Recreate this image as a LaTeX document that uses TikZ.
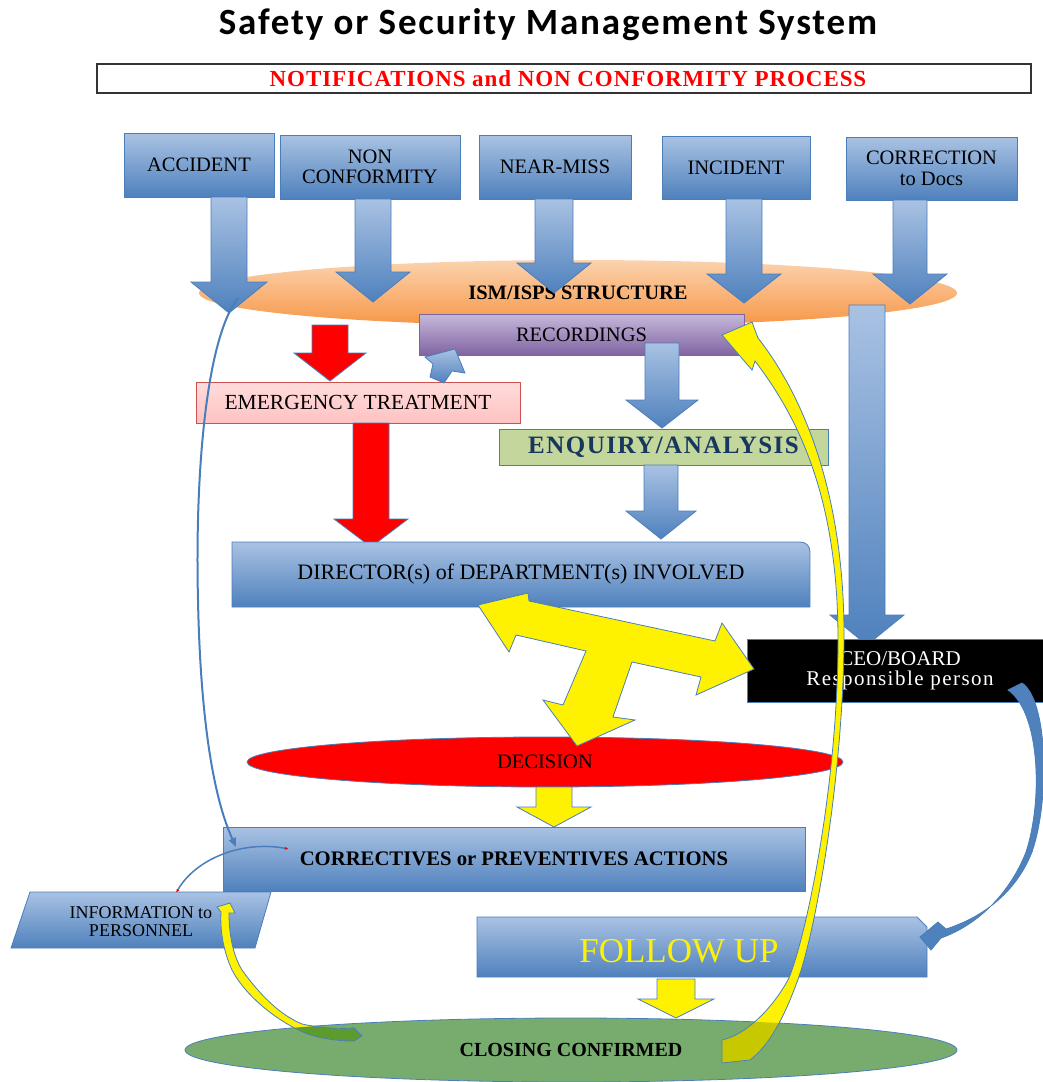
\documentclass[tikz,border=0pt]{standalone}
\usepackage{fontspec}
\setmainfont{Liberation Serif}
\newfontfamily\headfont{Carlito}
\usetikzlibrary{arrows.meta, shapes.geometric}
\definecolor{boxtop}{HTML}{A9C2E3}
\definecolor{boxbot}{HTML}{4F81BD}
\definecolor{edgeblue}{HTML}{4A7EBB}
\definecolor{recotop}{HTML}{C6B9DB}
\definecolor{recobot}{HTML}{8064A2}
\definecolor{emtop}{HTML}{FFDCDC}
\definecolor{embot}{HTML}{FFC2C2}
\definecolor{emedge}{HTML}{D05050}
\definecolor{enqfill}{HTML}{C3D69B}
\definecolor{enqtext}{HTML}{17375E}
\definecolor{ismtop}{HTML}{FBD3AE}
\definecolor{ismbot}{HTML}{F79646}
\definecolor{closefill}{HTML}{78AC6F}
\definecolor{tailyellow}{HTML}{C8C800}
\definecolor{tailgreen}{HTML}{5E9B2E}
% vertical block arrow: style, x, y top, y tip, shaft half width, head half width, head length
\newcommand{\blockdown}[7]{%
  \path[#1] ({#2-#5},#3) -- ({#2+#5},#3) -- ({#2+#5},{#4-#7}) -- ({#2+#6},{#4-#7})
    -- (#2,#4) -- ({#2-#6},{#4-#7}) -- ({#2-#5},{#4-#7}) -- cycle;}

\begin{document}
\begin{tikzpicture}[x=1pt, y=-1pt,
    lbl/.style={font=\fontsize{20.5}{20}\selectfont, align=center, inner sep=0pt},
    topbox/.style={rectangle, draw=edgeblue, line width=0.8pt, top color=boxtop, bottom color=boxbot, lbl},
    bluearr/.style={draw=edgeblue, line width=0.8pt, top color=boxtop, bottom color=boxbot},
    redarr/.style={draw=edgeblue, line width=0.8pt, fill=red},
    yelarr/.style={draw=edgeblue, line width=0.8pt, fill=yellow},
    thinarr/.style={draw=edgeblue, line width=2pt}]
  \useasboundingbox (0,0) rectangle (1043,1082);
  \clip (0,0) rectangle (1043,1082);

  % heading
  \node[font=\headfont\bfseries\fontsize{37}{37}\selectfont\addfontfeatures{LetterSpace=5}, anchor=base] (title) at (548,34) {Safety or Security Management System};
  \node[rectangle, draw=black!80, line width=1.2pt, minimum width=934pt, minimum height=29pt, inner sep=0pt] (process) at (564,78.5) {};
  \node[font=\bfseries\fontsize{23}{23}\selectfont\addfontfeatures{LetterSpace=4}, text=red] (processtxt) at (568,78.5) {NOTIFICATIONS and NON CONFORMITY PROCESS};

  % notifications
  \node[topbox, minimum width=150pt, minimum height=64pt] (acc) at (199,165) {ACCIDENT};
  \node[topbox, minimum width=180pt, minimum height=64pt] (noncf) at (370,167) {NON\\CONFORMITY};
  \node[topbox, minimum width=152pt, minimum height=64pt] (nearm) at (555,167) {NEAR-MISS};
  \node[topbox, minimum width=148pt, minimum height=63pt] (incid) at (736,167.5) {INCIDENT};
  \node[topbox, minimum width=171pt, minimum height=63pt] (corrdoc) at (931.5,168.5) {CORRECTION\\[1pt]to Docs};

  \node[ellipse, minimum width=758pt, minimum height=66pt, inner sep=0pt, top color=ismtop, bottom color=ismbot,
        font=\bfseries\fontsize{20.5}{20}\selectfont] (ism) at (578,293) {ISM/ISPS STRUCTURE};

  \blockdown{bluearr}{229}{197}{313}{18}{38}{31}
  \blockdown{bluearr}{373}{199}{302}{18}{37}{30}
  \blockdown{bluearr}{554}{199}{293}{19}{37}{30}
  \blockdown{bluearr}{744}{199}{303}{18}{37}{29}
  \blockdown{bluearr}{910}{200}{304}{17}{37}{30}
  \blockdown{bluearr}{867}{305}{645}{18}{37}{30}

  % treatment and analysis
  \node[rectangle, draw=recobot, line width=0.8pt, top color=recotop, bottom color=recobot, lbl,
        minimum width=325pt, minimum height=41pt] (reco) at (581.5,334.5) {RECORDINGS};
  \blockdown{redarr}{330}{325}{381}{18}{36}{28}
  \node[rectangle, draw=emedge, line width=1pt, top color=emtop, bottom color=embot, lbl, font=\fontsize{21.5}{20}\selectfont,
        minimum width=324pt, minimum height=41pt] (emerg) at (358,402.5) {EMERGENCY TREATMENT};
  \path[bluearr] (430,377) -- (433,364) -- (425,357) -- (455,349) -- (465,373) -- (452,371) -- (444,383) -- cycle;
  \blockdown{bluearr}{662}{343}{428}{17}{36}{28}
  \node[rectangle, draw=edgeblue, line width=0.8pt, fill=enqfill, inner sep=0pt, text=enqtext,
        font=\bfseries\fontsize{25}{25}\selectfont\addfontfeatures{LetterSpace=6}, minimum width=329pt, minimum height=36pt] (enq) at (663.5,447) {ENQUIRY/ANALYSIS};
  \blockdown{bluearr}{661}{465}{539}{17}{35}{28}
  \blockdown{redarr}{371}{423}{547}{18}{37}{28}

  \path[bluearr] (232,542) -- (800,542) .. controls (806,542) and (810,546) .. (810,552) -- (810,607) -- (232,607) -- cycle;
  \node[lbl, font=\fontsize{22}{22}\selectfont, minimum width=578pt, minimum height=65pt] (dir) at (521,574.5) {DIRECTOR(s) of DEPARTMENT(s) INVOLVED};
  \node[rectangle, draw=edgeblue, line width=0.8pt, fill=black, text=white, lbl, font=\fontsize{21}{20}\selectfont,
        minimum width=306pt, minimum height=63pt] (ceo) at (900,670.5) {CEO/BOARD\\\addfontfeatures{LetterSpace=7}Responsible person};

  % decision
  \node[ellipse, draw=edgeblue, line width=0.8pt, fill=red, lbl, minimum width=596pt, minimum height=50pt] (dec) at (545,762) {DECISION};
  \path[yelarr] (478,605) -- (528,593) -- (529,601) -- (715,641) -- (722,623) -- (754,669) -- (696,695) -- (701,677)
    -- (632,662) -- (613,717) -- (635,720) -- (577,746) -- (543,700) -- (563,705) -- (586,651) -- (516,635) -- (509,652) -- cycle;
  \blockdown{yelarr}{554}{787}{827}{18}{37}{20}

  % actions
  \node[topbox, font=\bfseries\fontsize{20.7}{20}\selectfont, minimum width=582pt, minimum height=64pt] (actions) at (514,859) {CORRECTIVES or PREVENTIVES ACTIONS};
  \path[bluearr] (30,892) -- (271,892) -- (255,948) -- (11,948) -- cycle;
  \node[lbl, font=\fontsize{18}{18}\selectfont] (info) at (141,922) {INFORMATION to\\PERSONNEL};
  \path[bluearr] (477,917) -- (917,917) -- (927,927) -- (927,977) -- (477,977) -- cycle;
  \node[lbl, font=\fontsize{35}{35}\selectfont, text=yellow] (follow) at (679,951) {FOLLOW UP};
  \blockdown{yelarr}{676}{979}{1018}{19}{38}{19}
  \node[ellipse, draw=edgeblue, line width=0.8pt, fill=closefill, lbl, font=\bfseries\fontsize{20}{20}\selectfont,
        minimum width=772pt, minimum height=64pt] (closing) at (571,1050) {CLOSING CONFIRMED};

  % feedback loops
  \path[save path=\infoback] (230,903) -- (235,913) -- (229,913) .. controls (229,935) and (233,955) .. (242,970)
    .. controls (260,995) and (280,1015) .. (302,1024) .. controls (320,1028) and (340,1029) .. (354,1028)
    -- (362,1036) -- (354,1041) .. controls (335,1041) and (318,1038) .. (305,1033)
    .. controls (275,1020) and (245,995) .. (232,970) .. controls (223,950) and (220,930) .. (221,912) -- (217,907) -- cycle;
  \fill[yellow, use path=\infoback];
  \begin{scope}
    \clip (571,1050) ellipse [x radius=386pt, y radius=32pt];
    \fill[tailgreen, use path=\infoback];
  \end{scope}
  \draw[edgeblue, line width=0.8pt, use path=\infoback];

  \coordinate (loopstart) at (238,298);
  \coordinate (loopend) at (236,847);
  \draw[thinarr, -{Triangle[length=9pt, width=7pt]}] (loopstart) .. controls (205,340) and (195,480) .. (198,600)
    .. controls (200,700) and (210,790) .. (loopend);
  \coordinate (infotop) at (176,893);
  \coordinate (actleft) at (289,849);
  \draw[edgeblue, line width=1.5pt, {Latex[color=red, length=4pt, width=3pt]}-{Latex[color=red, length=4pt, width=3pt]}]
    (infotop) .. controls (195,860) and (240,840) .. (actleft);

  \path[draw=edgeblue, line width=0.8pt, fill=boxbot] (1008,690) -- (1022,683) .. controls (1048,700) and (1050,800) .. (1032,852)
    .. controls (1015,895) and (980,918) .. (946,929) -- (938,922) -- (920,937) -- (931,950) -- (941,938)
    .. controls (978,925) and (1010,893) .. (1026,852) .. controls (1043,800) and (1040,712) .. (1008,690) -- cycle;

  \path[save path=\closeback] (722,335) -- (752,322) -- (758,338) .. controls (795,385) and (845,480) .. (844,640)
    .. controls (843,780) and (815,935) .. (797,982) .. controls (785,1015) and (770,1045) .. (750,1060)
    -- (722,1063) -- (722,1040) .. controls (745,1035) and (772,1010) .. (789,978)
    .. controls (808,930) and (838,780) .. (838,640) .. controls (838,500) and (800,420) .. (755,361) -- (752,370) -- cycle;
  \fill[yellow, use path=\closeback];
  \begin{scope}
    \clip (571,1050) ellipse [x radius=386pt, y radius=32pt];
    \fill[tailyellow, use path=\closeback];
  \end{scope}
  \draw[edgeblue, line width=0.8pt, use path=\closeback];
\end{tikzpicture}
\end{document}
